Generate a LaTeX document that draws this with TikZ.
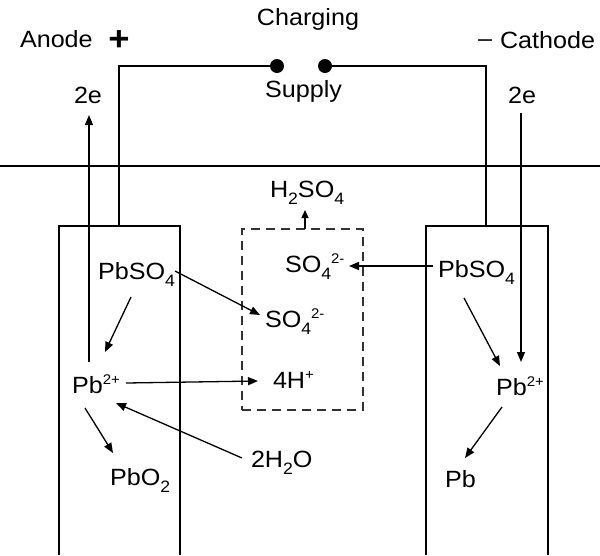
\documentclass[tikz,border=0pt]{standalone}
\usepackage{fontspec}
\setmainfont{Liberation Sans}[FakeStretch=1.07]
\usetikzlibrary{arrows.meta}
\newcommand\dn[1]{\raisebox{-0.34em}{\fontsize{16.5}{16.5}\selectfont #1}}
\newcommand\up[1]{\raisebox{0.36em}{\fontsize{14}{14}\selectfont #1}}
\begin{document}
\begin{tikzpicture}[x=1pt,y=-1pt,
  every node/.style={inner sep=0pt, outer sep=0pt, font=\fontsize{23.5}{28}\selectfont},
  lbl/.style={anchor=base west},
  lblc/.style={anchor=base},
  arr/.style={-{Triangle[length=10pt,width=8pt]}, line width=1.3pt},
  smallarr/.style={-{Triangle[length=8pt,width=7pt]}, line width=1.3pt},
  wire/.style={line width=2pt},
  tankbox/.style={draw=black!80, line width=1.3pt, dash pattern=on 9pt off 6pt},
  dot/.style={circle, fill=black, minimum size=14pt}]
\useasboundingbox (0,0) rectangle (600,555);
% ground line
\draw[wire] (0,166) -- (600,166);
% electrodes
\draw[wire] (59,555) |- (180,226) -- (180,555);
\draw[wire] (426,555) |- (548,226) -- (548,555);
% supply
\node[dot] (dotL) at (277,66) {};
\node[dot] (dotR) at (325,66) {};
\draw[wire] (118.5,226) |- (dotL);
\draw[wire] (dotR) -| (486,226);
% labels top
\node[lblc] (charging) at (308,25) {Charging};
\node[lbl] (anode) at (20,47) {Anode};
\node[font=\fontsize{34}{34}\selectfont\bfseries] (plus) at (119,41) {+};
\node[lblc] (minus) at (485,46) {–};
\node[lbl] (cathode) at (500,48) {Cathode};
\node[lblc] (supply) at (303.5,97) {Supply};
\node[lblc] (e2L) at (88,103) {2e};
\node[lblc] (e2R) at (522,103) {2e};
% electrolyte
\node[tankbox, minimum width=121pt, minimum height=181pt] (tank) at (302.5,319.5) {};
\node[lbl] (h2so4) at (270,197) {H\dn{2}SO\dn{4}};
\node[lbl] (so4u) at (285,272) {SO\dn{4}\up{2-}};
\node[lbl] (so4m) at (265,327) {SO\dn{4}\up{2-}};
\node[lbl] (hplus) at (273,388) {4H\up{+}};
\node[lbl] (h2o) at (251,467) {2H\dn{2}O};
% left electrode
\node[lbl] (pbsoL) at (98,279) {PbSO\dn{4}};
\node[lbl] (pbL) at (72,393) {Pb\up{2+}};
\node[lbl] (pbo2) at (110,485) {PbO\dn{2}};
% right electrode
\node[lbl] (pbsoR) at (438,277) {PbSO\dn{4}};
\node[lbl] (pbR) at (496,395) {Pb\up{2+}};
\node[lbl] (pb) at (445,487) {Pb};
% arrows
\draw[arr] ([shift={(17,-31)}]pbL.base west) -- ([shift={(1,12)}]e2L.base);
\draw[arr] ([shift={(-1,10)}]e2R.base) -- ([shift={(25,-33)}]pbR.base west);
\draw[arr] ([shift={(33,18)}]pbsoL.base west) -- ([shift={(33,-41)}]pbL.base west);
\draw[arr] ([shift={(77,-8)}]pbsoL.base west) -- ([shift={(-5,-12)}]so4m.base west);
\draw[arr] ([shift={(54,-10)}]pbL.base west) -- ([shift={(-15,-7)}]hplus.base west);
\draw[arr] ([shift={(13,15)}]pbL.base west) -- ([shift={(3,-32)}]pbo2.base west);
\draw[arr] ([shift={(-9,-9)}]h2o.base west) -- ([shift={(44,10)}]pbL.base west);
\draw[arr] ([shift={(-5,-11)}]pbsoR.base west) -- ([shift={(64,-6)}]so4u.base west);
\draw[arr] ([shift={(26,21)}]pbsoR.base west) -- ([shift={(4,-29)}]pbR.base west);
\draw[arr] ([shift={(6,12)}]pbR.base west) -- ([shift={(20,-29)}]pb.base west);
\draw[smallarr] ([shift={(2.5,0)}]tank.north) -- ([shift={(35,13)}]h2so4.base west);
\end{tikzpicture}
\end{document}
